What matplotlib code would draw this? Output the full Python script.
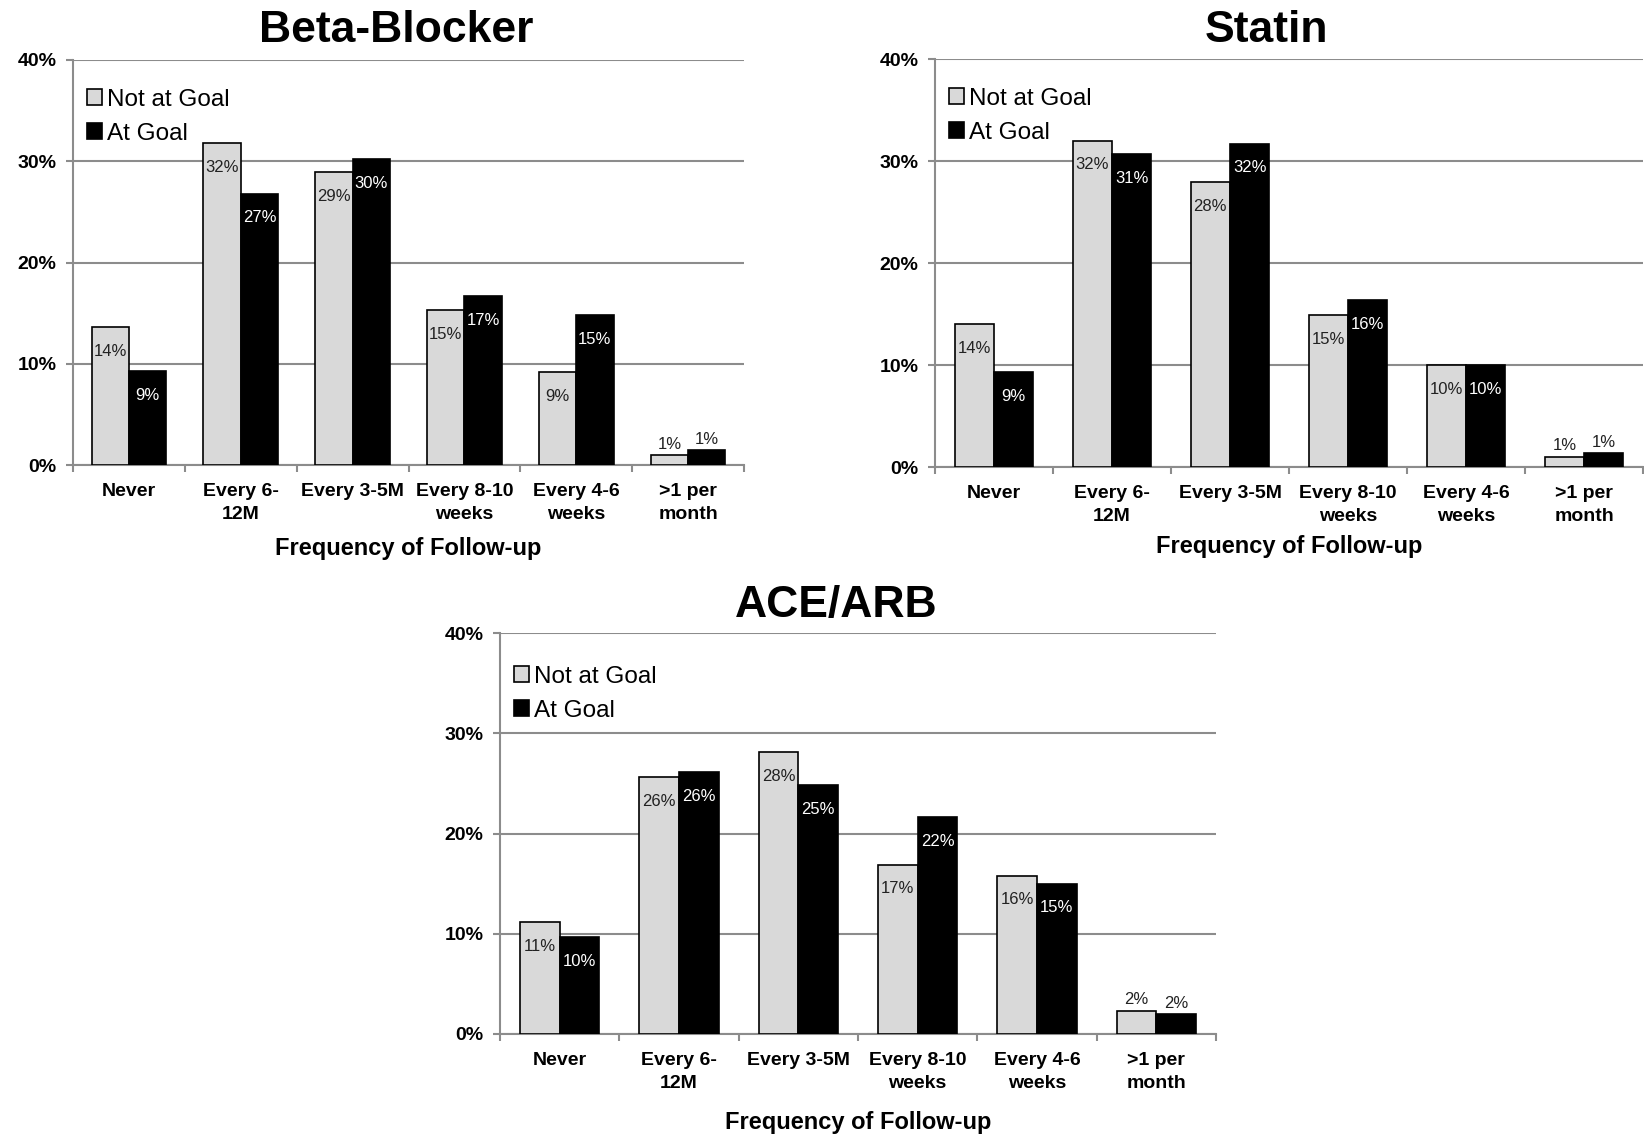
import matplotlib.pyplot as plt
import numpy as np

plt.rcParams['font.family'] = ['Liberation Sans', 'DejaVu Sans']

categories = ['Never', 'Every 6-\n12M', 'Every 3-5M', 'Every 8-10\nweeks',
              'Every 4-6\nweeks', '>1 per\nmonth']
series_names = ['Not at Goal', 'At Goal']
y_ticks = [0, 10, 20, 30, 40]

beta_not_goal = [13.6, 31.8, 28.9, 15.3, 9.2, 0.95]
beta_at_goal = [9.3, 26.8, 30.2, 16.7, 14.8, 1.45]

statin_not_goal = [14.0, 32.0, 27.9, 14.9, 10.0, 0.98]
statin_at_goal = [9.3, 30.7, 31.7, 16.4, 10.0, 1.35]

ace_not_goal = [11.2, 25.6, 28.1, 16.9, 15.8, 2.3]
ace_at_goal = [9.7, 26.1, 24.8, 21.6, 15.0, 1.96]

W, H = 1644, 1138
GRID = '#8c8c8c'
LIGHT = '#d9d9d9'
PT = 0.72  # points per pixel at dpi 100

fig = plt.figure(figsize=(W / 100, H / 100), dpi=100)


def px_axes(left, top, right, bottom):
    return fig.add_axes([left / W, 1 - bottom / H, (right - left) / W, (bottom - top) / H])


def panel(ax, title, not_goal, at_goal, title_dx, title_dy, xlabel_dy, legend_dy):
    x = np.arange(len(categories))
    w = 1 / 3
    b1 = ax.bar(x - w / 2, not_goal, w, color=LIGHT, edgecolor='black',
                linewidth=1.2, label=series_names[0], zorder=3)
    b2 = ax.bar(x + w / 2, at_goal, w, color='black', edgecolor='black',
                linewidth=1.2, label=series_names[1], zorder=3)

    for bars, vals, inside in ((b1, not_goal, '#222222'), (b2, at_goal, 'white')):
        for rect, v in zip(bars, vals):
            cx = rect.get_x() + rect.get_width() / 2
            if v < 5:
                off, col = 8, '#222222'
            else:
                off, col = -17.5, inside
            ax.annotate(f'{round(v)}%', (cx, v), xytext=(0, off),
                        textcoords='offset points', ha='center', va='center',
                        fontsize=12, color=col, zorder=4)

    ax.set_xlim(-0.5, len(categories) - 0.5)
    ax.set_ylim(0, 40)
    ax.set_yticks(y_ticks)
    ax.set_yticklabels([f'{t}%' for t in y_ticks], fontsize=14, fontweight='bold')
    ax.yaxis.grid(True, color=GRID, linewidth=1.5)
    ax.set_axisbelow(True)

    ax.set_xticks(x)
    ax.set_xticklabels(categories, fontsize=14, fontweight='bold', linespacing=1.45)
    ax.set_xticks(np.arange(len(categories) + 1) - 0.5, minor=True)
    ax.tick_params(axis='x', which='major', length=0, pad=13)
    ax.tick_params(axis='x', which='minor', length=5, width=1.5, color=GRID)
    ax.tick_params(axis='y', length=5, width=1.5, color=GRID, pad=7)

    for s in ('top', 'right'):
        ax.spines[s].set_visible(False)
    for s in ('left', 'bottom'):
        ax.spines[s].set_color(GRID)
        ax.spines[s].set_linewidth(1.5)

    ax.annotate(title, (0.5 + title_dx, 1), xycoords='axes fraction',
                xytext=(0, title_dy * PT), textcoords='offset points',
                ha='center', va='center', fontsize=32, fontweight='bold')
    ax.annotate('Frequency of Follow-up', (0.5, 0), xycoords='axes fraction',
                xytext=(0, -xlabel_dy * PT), textcoords='offset points',
                ha='center', va='center', fontsize=17, fontweight='bold')

    bbox = ax.get_position()
    ax_h = bbox.height * H
    ax_w = bbox.width * W
    ax.legend(loc='upper left', bbox_to_anchor=(14 / ax_w, 1 - legend_dy / ax_h),
              frameon=False, fontsize=17.5, handlelength=0.63, handleheight=0.63,
              handletextpad=0.2, labelspacing=0.48, borderpad=0, borderaxespad=0)


ax1 = px_axes(73, 60, 744, 465)
panel(ax1, 'Beta-Blocker', beta_not_goal, beta_at_goal, -0.0186, 29, 84, 29)

ax2 = px_axes(935, 59, 1643, 467)
panel(ax2, 'Statin', statin_not_goal, statin_at_goal, -0.0317, 28, 80, 29)

ax3 = px_axes(500, 633, 1216, 1034)
panel(ax3, 'ACE/ARB', ace_not_goal, ace_at_goal, -0.031, 27, 89, 33)

fig.savefig('out.png', dpi=100, facecolor='white')
